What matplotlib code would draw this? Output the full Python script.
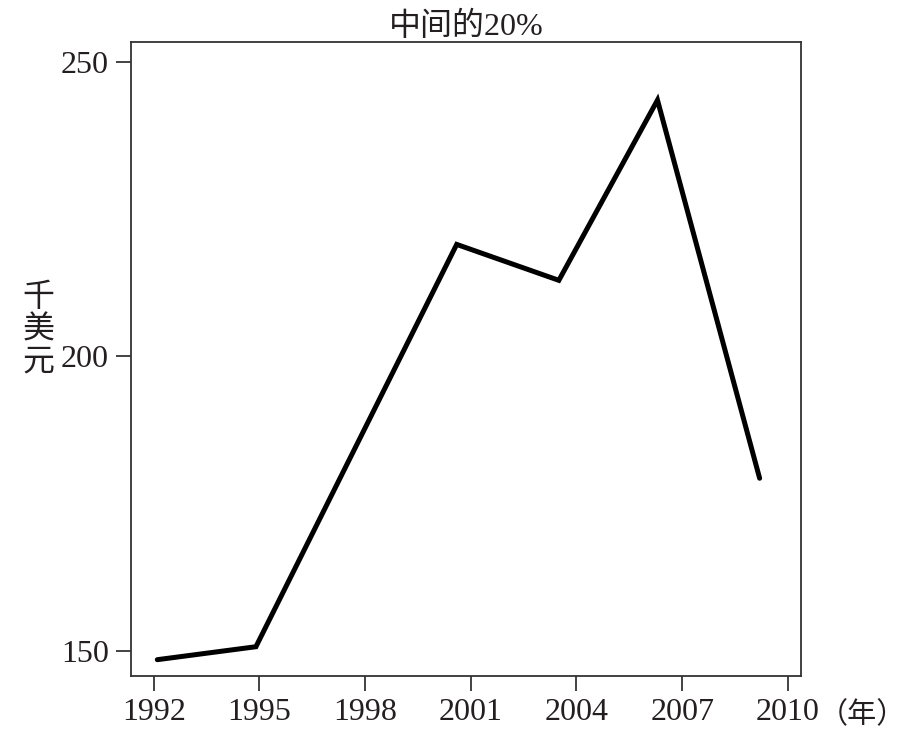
import matplotlib
matplotlib.use('Agg')
import matplotlib.pyplot as plt

plt.rcParams['font.family'] = ['Liberation Serif', 'Noto Sans CJK SC', 'DejaVu Sans']

# data (thousand dollars)
years = [1992.1, 1994.9, 2000.6, 2003.5, 2006.3, 2009.2]
values = [148.5, 150.7, 219.0, 212.9, 243.5, 179.3]
xticks = [1992, 1995, 1998, 2001, 2004, 2007, 2010]
yticks = [150, 200, 250]

fig = plt.figure(figsize=(9.09, 7.46), dpi=100)
ax = fig.add_axes([0.144, 0.094, 0.737, 0.850])

ax.plot(years, values, color='black', lw=3.6, solid_joinstyle='miter', solid_capstyle='round')

ax.set_xlim(1991.35, 2010.37)
ax.set_ylim(145.75, 253.4)
ax.set_xticks(xticks)
ax.set_xticklabels([str(x) for x in xticks])
ax.set_yticks(yticks)
ax.tick_params(axis='both', labelsize=23, length=11, width=1.2, color='#222222', labelcolor='#231f20')
ax.tick_params(axis='x', pad=5)
ax.tick_params(axis='y', pad=5)
for s in ax.spines.values():
    s.set_linewidth(1.3)
    s.set_color('#333333')

ax.set_title('中间的20%', fontsize=23, color='#231f20', pad=5)
fig.text(0.042, 0.557, '千\n美\n元', fontsize=23, ha='center', va='center',
         linespacing=1.15, color='#231f20')
fig.text(0.901, 0.041, '（年）', fontsize=21, ha='left', va='center', color='#231f20',
         family=['Noto Sans CJK SC'])

fig.savefig('out.png', dpi=100)
